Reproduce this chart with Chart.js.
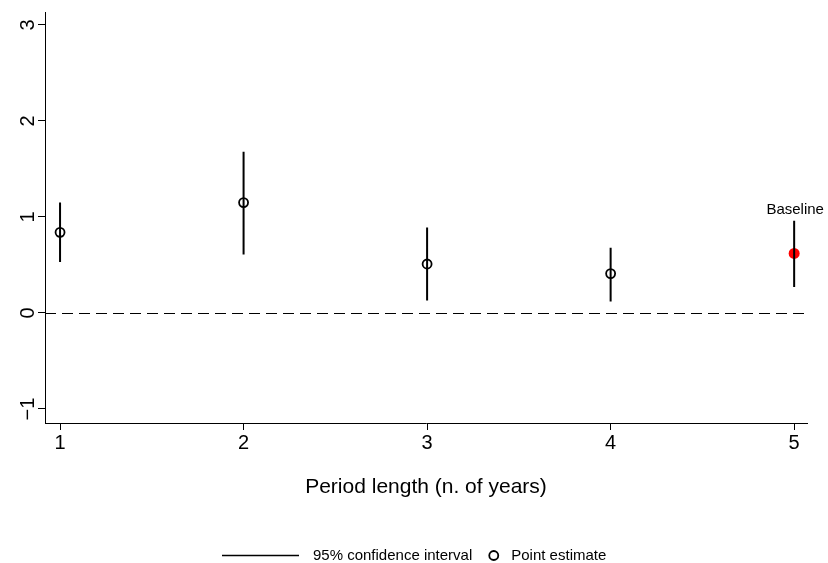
<!DOCTYPE html>
<html>
<head>
<meta charset="utf-8">
<script src="https://cdn.jsdelivr.net/npm/chart.js@4.4.1/dist/chart.umd.min.js"></script>
<style>
  html, body { margin: 0; padding: 0; background: #ffffff; }
  #wrap { width: 828px; height: 563px; position: relative; }
</style>
</head>
<body>
<div id="wrap"><canvas id="c" width="828" height="563"></canvas></div>
<script>
// ---- data ----
const periodLength = [1, 2, 3, 4, 5];
const pointEstimate = [0.84, 1.15, 0.51, 0.41, 0.62];
const ciLower = [0.53, 0.61, 0.13, 0.12, 0.27];
const ciUpper = [1.15, 1.68, 0.89, 0.68, 0.96];
const baselineIndex = 4;
const baselineLabel = 'Baseline';
const xTicks = [1, 2, 3, 4, 5];
const yTicks = [-1, 0, 1, 2, 3];
const referenceValue = 0;
const xTitle = 'Period length (n. of years)';
const legendLabels = ['95% confidence interval', 'Point estimate'];

const FONT = "'Liberation Sans', Arial, Helvetica, sans-serif";

// CI segments (one dataset, gaps between intervals)
const ciData = [];
periodLength.forEach((x, i) => {
  ciData.push({ x: x, y: ciLower[i] });
  ciData.push({ x: x, y: ciUpper[i] });
  ciData.push({ x: x, y: null });
});
const pointData = periodLength.map((x, i) => ({ x: x, y: pointEstimate[i] }));

const refLinePlugin = {
  id: 'refLine',
  beforeDatasetsDraw(chart) {
    const { ctx, chartArea, scales } = chart;
    const y = Math.round(scales.y.getPixelForValue(referenceValue)) + 0.5;
    ctx.save();
    ctx.strokeStyle = '#000';
    ctx.lineWidth = 1;
    ctx.setLineDash([11, 6]);
    ctx.beginPath();
    ctx.moveTo(chartArea.left, y);
    ctx.lineTo(chartArea.right, y);
    ctx.stroke();
    ctx.restore();
  }
};

const annotPlugin = {
  id: 'annot',
  afterDatasetsDraw(chart) {
    const { ctx, scales } = chart;
    ctx.save();
    // Baseline label
    const bx = scales.x.getPixelForValue(periodLength[baselineIndex]);
    const by = scales.y.getPixelForValue(ciUpper[baselineIndex]);
    ctx.fillStyle = '#000';
    ctx.font = '15px ' + FONT;
    ctx.textAlign = 'center';
    ctx.textBaseline = 'alphabetic';
    ctx.fillText(baselineLabel, bx + 1, by - 7);

    // Legend
    ctx.font = '15px ' + FONT;
    const lineLen = 77, gap1 = 14, gap2 = 17, circR = 4.5, gap3 = 13;
    const w1 = ctx.measureText(legendLabels[0]).width;
    const w2 = ctx.measureText(legendLabels[1]).width;
    const total = lineLen + gap1 + w1 + gap2 + circR * 2 + gap3 + w2;
    const cx = chart.width / 2;
    let x = Math.round(cx - total / 2);
    const ly = 555.5;
    ctx.strokeStyle = '#000';
    ctx.lineWidth = 1.5;
    ctx.beginPath();
    ctx.moveTo(x, ly);
    ctx.lineTo(x + lineLen, ly);
    ctx.stroke();
    x += lineLen + gap1;
    ctx.textAlign = 'left';
    ctx.textBaseline = 'middle';
    ctx.fillText(legendLabels[0], x, ly);
    x += w1 + gap2;
    ctx.lineWidth = 1.8;
    ctx.beginPath();
    ctx.arc(x + circR, ly, circR, 0, Math.PI * 2);
    ctx.stroke();
    x += circR * 2 + gap3;
    ctx.fillText(legendLabels[1], x, ly);
    ctx.restore();
  }
};

new Chart(document.getElementById('c'), {
  type: 'scatter',
  data: {
    datasets: [
      {
        type: 'line',
        label: legendLabels[0],
        data: ciData,
        borderColor: '#000',
        borderWidth: 2,
        pointRadius: 0,
        spanGaps: false,
        fill: false
      },
      {
        type: 'scatter',
        label: legendLabels[1],
        data: pointData,
        pointRadius: (c) => c.dataIndex === baselineIndex ? 5.5 : 4.5,
        pointBorderWidth: (c) => c.dataIndex === baselineIndex ? 0 : 1.8,
        pointBorderColor: (c) => c.dataIndex === baselineIndex ? '#ff0000' : '#000',
        pointBackgroundColor: (c) => c.dataIndex === baselineIndex ? '#ff0000' : '#ffffff'
      }
    ]
  },
  options: {
    responsive: false,
    animation: false,
    devicePixelRatio: 1,
    layout: { padding: { top: 12, right: 21, bottom: 63, left: 0 } },
    plugins: {
      legend: { display: false },
      tooltip: { enabled: false }
    },
    scales: {
      x: {
        type: 'linear',
        min: 0.918,
        max: 5.07,
        afterBuildTicks: (s) => { s.ticks = xTicks.map(v => ({ value: v })); },
        afterFit: (s) => { s.height = 77; },
        grid: { display: true, drawOnChartArea: false, tickLength: 7, tickColor: '#000', tickWidth: 1 },
        border: { display: true, color: '#000', width: 1 },
        ticks: { color: '#000', font: { family: FONT, size: 20 }, padding: 1, maxRotation: 0 },
        title: { display: true, text: xTitle, color: '#000', font: { family: FONT, size: 21 }, padding: 0 }
      },
      y: {
        type: 'linear',
        min: -1.146,
        max: 3.135,
        afterBuildTicks: (s) => { s.ticks = yTicks.map(v => ({ value: v })); },
        afterFit: (s) => { s.width = 45; },
        grid: { display: true, drawOnChartArea: false, tickLength: 7, tickColor: '#000', tickWidth: 1 },
        border: { display: true, color: '#000', width: 1 },
        ticks: {
          color: '#000',
          font: { family: FONT, size: 20 },
          padding: -2,
          minRotation: 90,
          maxRotation: 90,
          crossAlign: 'center',
          callback: (v) => (v < 0 ? '\u2212' + Math.abs(v) : String(v))
        }
      }
    }
  },
  plugins: [refLinePlugin, annotPlugin]
});
</script>
</body>
</html>
